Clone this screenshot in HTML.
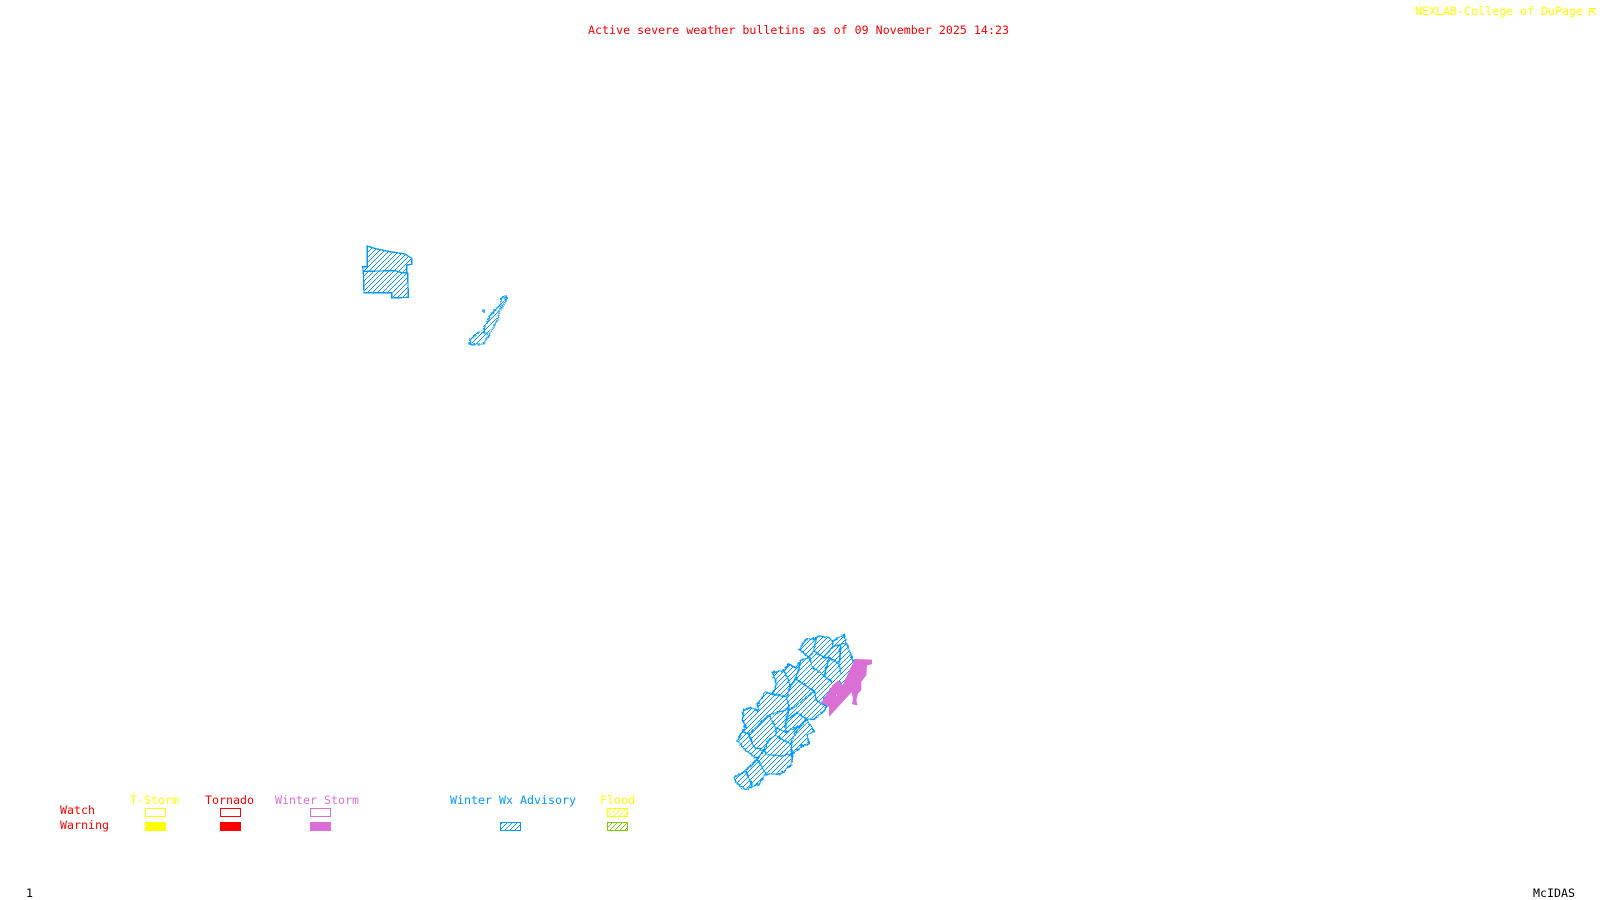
<!DOCTYPE html>
<html lang="en">
<head>
<meta charset="utf-8">
<title>Active severe weather bulletins</title>
<style>
html,body{margin:0;padding:0;background:#fff;width:1600px;height:900px;overflow:hidden}
svg{display:block}
text{font-family:"DejaVu Sans Mono","Liberation Mono",monospace;font-size:11.6px}
</style>
</head>
<body>
<svg width="1600" height="900" viewBox="0 0 1600 900" xmlns="http://www.w3.org/2000/svg">
<defs>
<pattern id="h3" patternUnits="userSpaceOnUse" width="5" height="5" patternTransform="scale(3)">
<path d="M0 4h1v1h-1zM1 3h1v1h-1zM2 2h1v1h-1zM3 1h1v1h-1zM4 0h1v1h-1z" fill="#0099ff" shape-rendering="crispEdges"/>
</pattern>
<pattern id="hb" patternUnits="userSpaceOnUse" width="5" height="5">
<path d="M0 4h1v1h-1zM1 3h1v1h-1zM2 2h1v1h-1zM3 1h1v1h-1zM4 0h1v1h-1z" fill="#0099ff" shape-rendering="crispEdges"/>
</pattern>
<pattern id="hy" patternUnits="userSpaceOnUse" width="5" height="5">
<path d="M0 4h1v1h-1zM1 3h1v1h-1zM2 2h1v1h-1zM3 1h1v1h-1zM4 0h1v1h-1z" fill="#ffff00" shape-rendering="crispEdges"/>
</pattern>
<pattern id="hg" patternUnits="userSpaceOnUse" width="5" height="5">
<path d="M0 4h1v1h-1zM1 3h1v1h-1zM2 2h1v1h-1zM3 1h1v1h-1zM4 0h1v1h-1z" fill="#80cc00" shape-rendering="crispEdges"/>
</pattern>
<filter id="rough" x="-5%" y="-5%" width="110%" height="110%">
<feTurbulence type="turbulence" baseFrequency="0.09" numOctaves="2" seed="4" result="n"/>
<feDisplacementMap in="SourceGraphic" in2="n" scale="9" xChannelSelector="R" yChannelSelector="G"/>
</filter>
<filter id="rough2" x="-10%" y="-10%" width="120%" height="120%">
<feTurbulence type="turbulence" baseFrequency="0.14" numOctaves="2" seed="9" result="n"/>
<feDisplacementMap in="SourceGraphic" in2="n" scale="12" xChannelSelector="R" yChannelSelector="G"/>
</filter>
</defs>

<!-- Titles -->
<text x="588" y="34" fill="#ff0000" textLength="421" lengthAdjust="spacingAndGlyphs">Active severe weather bulletins as of 09 November 2025 14:23</text>
<text x="1415" y="15" fill="#ffff00" textLength="168" lengthAdjust="spacingAndGlyphs">NEXLAB-College of DuPage</text>
<path d="M1596 8.5H1589.5V16M1590 9L1596 15M1590 12L1595 9" stroke="#ffff00" stroke-width="1" fill="none"/>

<!-- Northern areas -->
<g transform="translate(340,230) scale(0.3333333)">
<path d="M82 48L110 57L150 65L195 72L215 85L215 103L200 105L200 128L203 130L205 202L155 204L155 188L72 188L70 125L68 110L82 110Z" fill="url(#h3)"/>
<path d="M82 48L110 57L150 65L195 72L215 85L215 103L200 105L200 128L203 130L205 202L155 204L155 188L72 188L70 125L68 110L82 110Z" fill="none" stroke="#0099ff" stroke-width="4" shape-rendering="crispEdges"/>
<path d="M70 124L165 122L185 128L200 128" fill="none" stroke="#0099ff" stroke-width="4" shape-rendering="crispEdges"/>
<path d="M385 340L390 325L410 305L428 303L430 290L445 260L460 240L478 225L482 200L498 195L492 215L475 240L470 265L450 300L440 320L425 340Z" fill="url(#h3)"/>
<g filter="url(#rough2)" fill="none" stroke="#0099ff" stroke-width="4">
<path d="M385 340L390 325L410 305L428 303L430 290L445 260L460 240L478 225L482 200L498 195L492 215L475 240L470 265L450 300L440 320L425 340Z"/>
<path d="M428 303L445 315"/>
</g>
<path d="M428 240L433 240L433 247L428 245Z" fill="none" stroke="#0099ff" stroke-width="3"/>
</g>

<!-- Southern area -->
<g transform="translate(700,610) scale(0.3333333)">
<path d="M350 76L385 80L395 90L430 73L438 100L448 125L455 150L468 148L445 190L428 228L415 212L400 225L362 278L378 285L370 300L340 325L318 325L340 362L318 372L325 398L305 405L275 430L272 460L240 490L195 490L175 520L160 525L135 538L105 515L100 500L135 480L170 445L150 430L125 410L110 388L125 362L135 350L125 325L128 298L150 290L172 300L172 280L195 243L215 250L228 220L215 185L250 180L262 160L285 170L300 150L325 140L295 115L318 85L345 85Z" fill="url(#h3)"/>
<g filter="url(#rough)" fill="none" stroke="#0099ff" stroke-width="4.5">
<path d="M350 76L385 80L395 90L430 73L438 100L448 125L455 150L468 148L445 190L428 228L415 212L400 225L362 278L378 285L370 300L340 325L318 325L340 362L318 372L325 398L305 405L275 430L272 460L240 490L195 490L175 520L160 525L135 538L105 515L100 500L135 480L170 445L150 430L125 410L110 388L125 362L135 350L125 325L128 298L150 290L172 300L172 280L195 243L215 250L228 220L215 185L250 180L262 160L285 170L300 150L325 140L295 115L318 85L345 85Z"/>
<path d="M345 85L340 122L325 140M340 122L370 140L395 110L395 90M395 110L420 100L438 100M325 140L335 170L370 195L385 140L370 140M385 140L415 160L420 190M415 160L420 100M300 150L285 205L340 240L345 265L360 278M370 195L395 215M250 180L270 225L285 205M270 225L258 258L215 250M258 258L265 295L280 290L340 240M265 295L255 330L255 365L225 350L205 312L170 345M205 312L230 305L265 295M255 330L290 305L318 325M255 365L265 360L300 345L318 325M170 345L145 370L125 362M145 370L160 410L190 420L170 445M225 350L225 375L205 385L190 420L195 430M225 375L270 400L275 430M270 400L285 365L300 345M200 432L240 435L275 430M170 445L195 490M135 480L155 525"/>
</g>
<path d="M465 148L515 150L515 162L500 165L498 195L483 215L483 240L473 250L468 270L471 285L457 282L460 265L455 245L388 318L388 290L365 277L400 225L415 212L428 228L445 190Z" fill="#da70d6" stroke="#da70d6" stroke-width="2"/>
<rect x="408" y="254" width="3" height="3" fill="#fff"/>
</g>

<!-- Legend -->
<text x="130" y="804" fill="#ffff00" textLength="49" lengthAdjust="spacingAndGlyphs">T-Storm</text>
<text x="205" y="804" fill="#ff0000" textLength="49" lengthAdjust="spacingAndGlyphs">Tornado</text>
<text x="275" y="804" fill="#da70d6" textLength="84" lengthAdjust="spacingAndGlyphs">Winter Storm</text>
<text x="450" y="804" fill="#0099ff" textLength="126" lengthAdjust="spacingAndGlyphs">Winter Wx Advisory</text>
<text x="600" y="804" fill="#ffff00" textLength="35" lengthAdjust="spacingAndGlyphs">Flood</text>
<text x="60" y="814" fill="#ff0000" textLength="35" lengthAdjust="spacingAndGlyphs">Watch</text>
<text x="60" y="829" fill="#ff0000" textLength="49" lengthAdjust="spacingAndGlyphs">Warning</text>

<g shape-rendering="crispEdges">
<rect x="145.5" y="808.5" width="20" height="8" fill="none" stroke="#ffff00"/>
<rect x="145" y="822" width="21" height="9" fill="#ffff00"/>
<rect x="220.5" y="808.5" width="20" height="8" fill="none" stroke="#ff0000"/>
<rect x="220" y="822" width="21" height="9" fill="#ff0000"/>
<rect x="310.5" y="808.5" width="20" height="8" fill="none" stroke="#da70d6"/>
<rect x="310" y="822" width="21" height="9" fill="#da70d6"/>
<rect x="500.5" y="822.5" width="20" height="8" fill="url(#hb)" stroke="#0099ff"/>
<rect x="607.5" y="808.5" width="20" height="8" fill="url(#hy)" stroke="#ffff00"/>
<rect x="607.5" y="822.5" width="20" height="8" fill="url(#hg)" stroke="#80cc00"/>
</g>

<!-- Footer -->
<text x="26" y="897" fill="#000000">1</text>
<text x="1533" y="897" fill="#000000" textLength="42" lengthAdjust="spacingAndGlyphs">McIDAS</text>
</svg>
</body>
</html>
